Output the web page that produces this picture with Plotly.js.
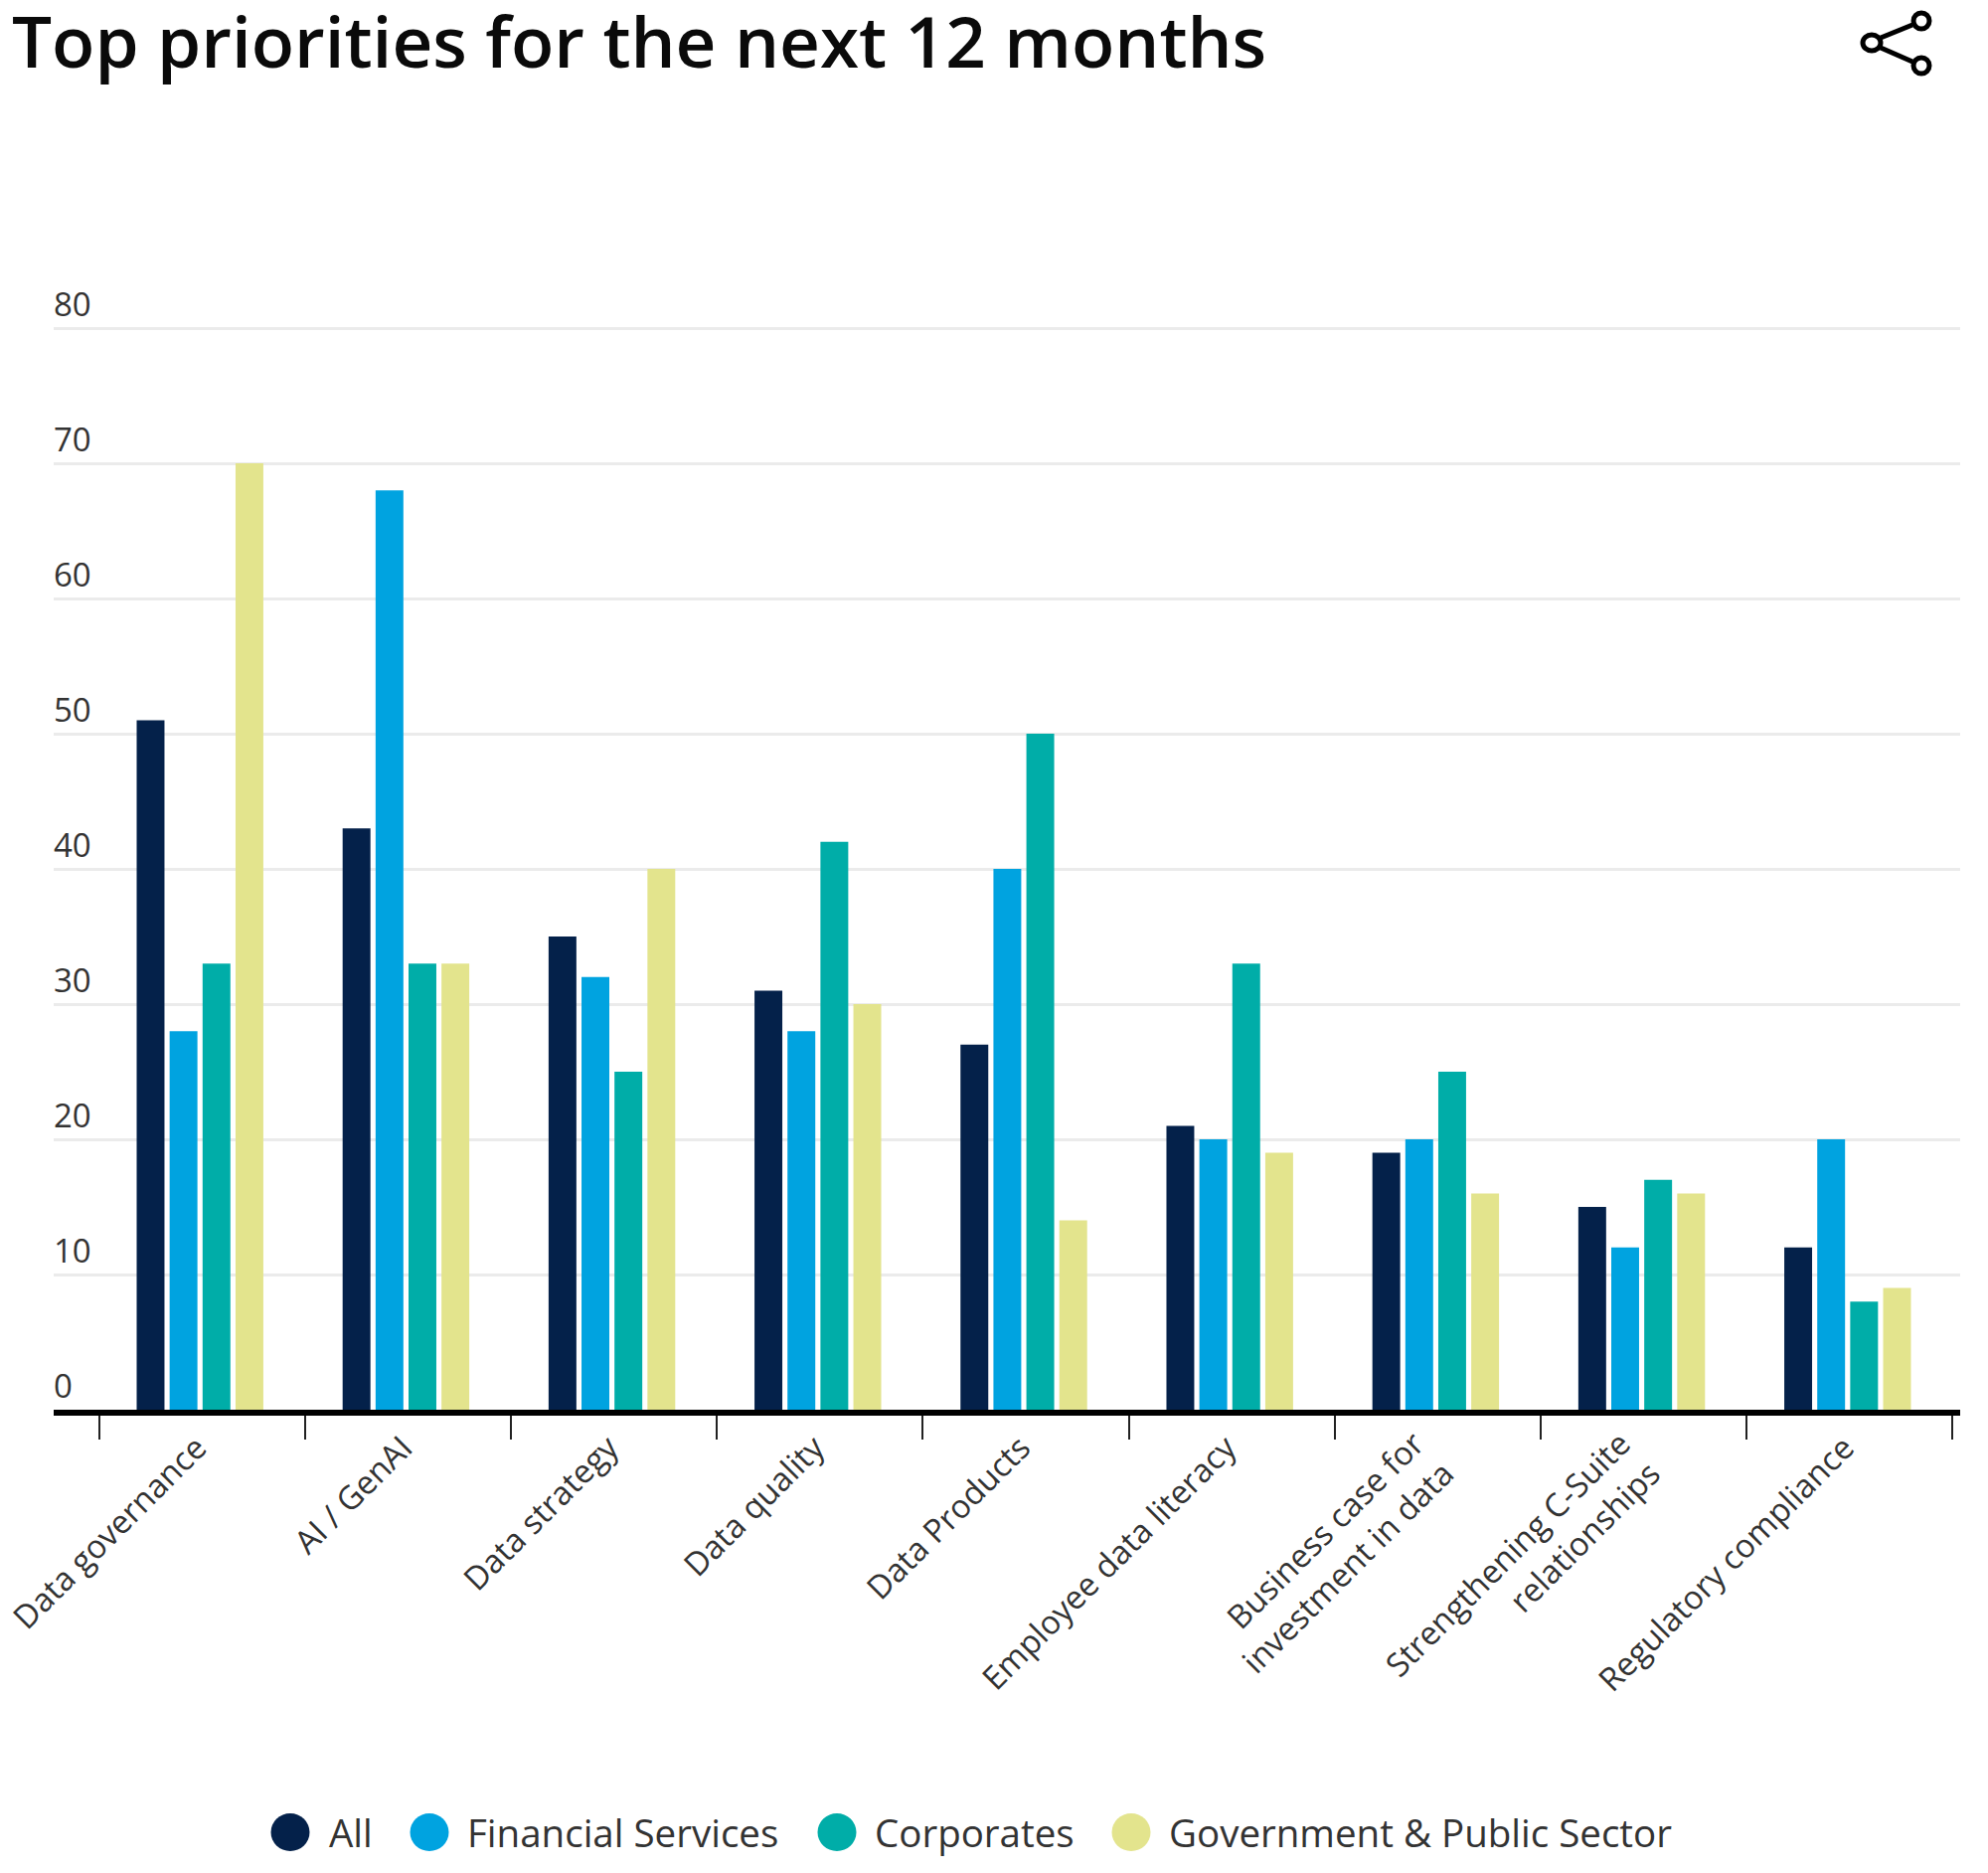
<!DOCTYPE html>
<html>
<head>
<meta charset="utf-8">
<script src="https://cdn.plot.ly/plotly-3.0.1.min.js"></script>
<style>html,body{margin:0;padding:0;background:#fff}</style>
</head>
<body>
<div id="chart" style="width:2000px;height:1884px"></div>
<script>
const categories = ["Data governance","AI / GenAI","Data strategy","Data quality","Data Products","Employee data literacy","Business case for<br>investment in data","Strengthening C-Suite<br>relationships","Regulatory compliance"];
const seriesAll = [51,43,35,31,27,21,19,15,12];
const seriesFinancial = [28,68,32,28,40,20,20,12,20];
const seriesCorporates = [33,33,25,42,50,33,25,17,8];
const seriesGovernment = [70,33,40,30,14,19,16,16,9];
const seriesNames = ["All","Financial Services","Corporates","Government & Public Sector"];
const seriesColors = ["#04214A","#00A3E0","#00ADA8","#E3E48D"];
const yTicks = [0,10,20,30,40,50,60,70,80];
const titleText = "Top priorities for the next 12 months";

const W=2000,H=1884,L=54,R=1972,T=326,B=1418;
const FONT='"Open Sans", sans-serif', TXT='#333333';
const px=x=>(x-L)/(R-L), py=y=>(B-y)/(B-T);
const seriesValues=[seriesAll,seriesFinancial,seriesCorporates,seriesGovernment];

const traces=seriesValues.map((v,k)=>({
  type:'bar',name:seriesNames[k],x:categories,y:v,
  marker:{color:seriesColors[k],line:{width:0}},
  width:0.135,offset:-0.317+0.16*k,showlegend:false,hoverinfo:'skip'
}));

const legendCircleX=[292,432,842,1138], legendTextX=[329,468,878,1174], legendY=1843;
const shapes=[], annotations=[];
seriesNames.forEach((n,k)=>{
  shapes.push({type:'circle',xref:'paper',yref:'paper',xsizemode:'pixel',ysizemode:'pixel',
    xanchor:px(legendCircleX[k]),yanchor:py(legendY),x0:-19.5,x1:19.5,y0:-19,y1:19,
    fillcolor:seriesColors[k],line:{width:0}});
  annotations.push({xref:'paper',yref:'paper',x:px(legendTextX[k]),y:py(legendY),xanchor:'left',yanchor:'middle',
    showarrow:false,text:n.replace('&','&amp;'),font:{family:FONT,size:38.5,color:TXT}});
});
yTicks.forEach(t=>annotations.push({xref:'paper',yref:'y',x:0,y:t,xanchor:'left',yanchor:'bottom',xshift:-2,yshift:0,
  showarrow:false,text:String(t),font:{family:FONT,size:33,color:TXT}}));

// two-line category labels sit centred on their tick, so they are placed individually
categories.filter(c=>c.includes('<br>')).forEach(c=>annotations.push({xref:'x',yref:'paper',x:c,y:py(1427),
  xanchor:'right',yanchor:'top',xshift:29,showarrow:false,text:c,textangle:-45,align:'right',
  font:{family:FONT,size:32.7,color:TXT}}));

// share icon
const ic={color:'#000',w:5};
[[1883,43],[1933,21],[1933,66]].forEach(c=>shapes.push({type:'circle',xref:'paper',yref:'paper',xsizemode:'pixel',ysizemode:'pixel',
  xanchor:px(c[0]),yanchor:py(c[1]),x0:c[0]==1883?-9:-8,x1:c[0]==1883?9:8,y0:-8,y1:8,fillcolor:'#fff',line:{color:ic.color,width:ic.w}}));
[[1892,38,1924,25],[1892,48,1924,62]].forEach(s=>shapes.push({type:'line',xref:'paper',yref:'paper',
  x0:px(s[0]),y0:py(s[1]),x1:px(s[2]),y1:py(s[3]),line:{color:ic.color,width:ic.w}}));

const layout={
  width:W,height:H,paper_bgcolor:'#fff',plot_bgcolor:'#fff',showlegend:false,
  margin:{l:L,r:W-R,t:T,b:H-B,pad:0},
  title:{text:titleText,x:12/W,xref:'container',xanchor:'left',y:1-43.5/H,yref:'container',yanchor:'middle',
    font:{family:FONT,size:71,weight:600,color:'#0A0A0A'}},
  barmode:'group',
  xaxis:{type:'category',categoryorder:'array',categoryarray:categories,range:[-0.72,8.537],
    tickmode:'array',tickvals:categories,ticktext:categories.map(c=>c.includes('<br>')?'':c),
    tickson:'boundaries',tickangle:-45,ticks:'outside',ticklen:24,tickwidth:2,tickcolor:'#222',
    ticklabelstandoff:0,ticklabelshift:-5,
    showgrid:false,zeroline:false,showline:true,linecolor:'#000',linewidth:6,
    tickfont:{family:FONT,size:32.7,color:TXT},automargin:false},
  yaxis:{range:[0,80.3],tickvals:yTicks,showticklabels:false,ticks:'',showgrid:true,gridcolor:'#EBEBEB',gridwidth:3,
    zeroline:false,showline:false,automargin:false},
  shapes,annotations
};
Plotly.newPlot('chart',traces,layout,{staticPlot:true,displayModeBar:false});
</script>
</body>
</html>
